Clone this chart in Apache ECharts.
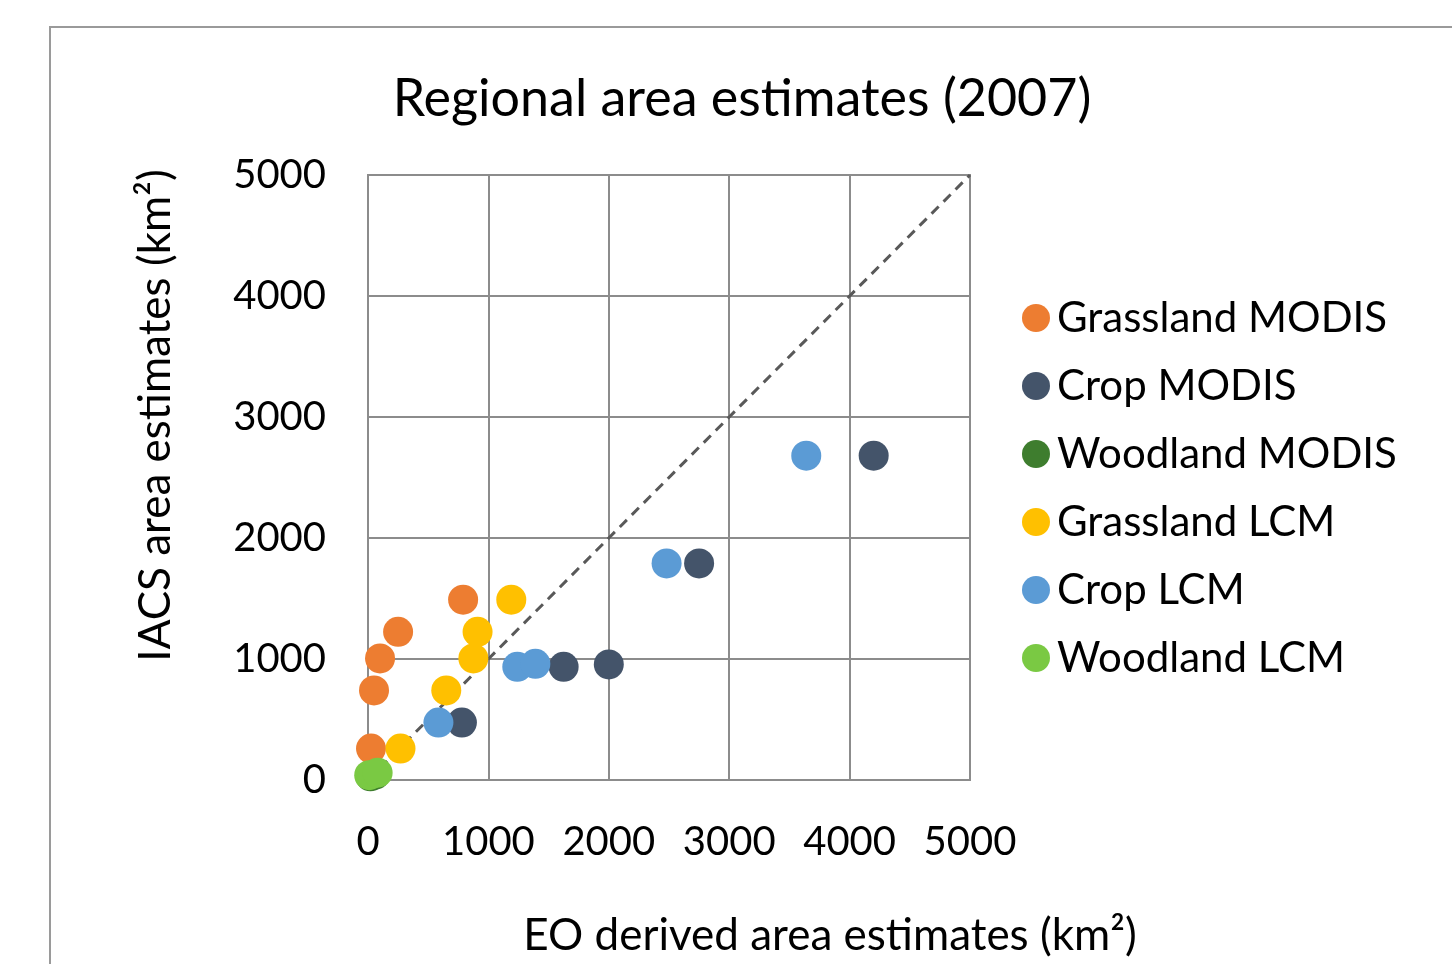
<!DOCTYPE html>
<html><head><meta charset="utf-8">
<script src="https://cdn.jsdelivr.net/npm/echarts@6/dist/echarts.min.js"></script>
<style>html,body{margin:0;padding:0;background:#fff}#c{width:1452px;height:964px}</style>
</head><body><div id="c"></div>
<script>
const title = 'Regional area estimates (2007)';
const xName = 'EO derived area estimates (km\u00B2)';
const yName = 'IACS area estimates (km\u00B2)';
const axisTicks = [0, 1000, 2000, 3000, 4000, 5000];
const seriesNames = ['Grassland MODIS','Crop MODIS','Woodland MODIS','Grassland LCM','Crop LCM','Woodland LCM'];
const seriesColors = ['#ED7D31','#44546A','#3E7D2E','#FFC000','#5B9BD5','#7AC943'];
const grasslandModis = [[790,1490],[250,1225],[100,1005],[50,740],[25,260]];
const cropModis = [[780,475],[1625,935],[2000,955],[2750,1790],[4200,2680]];
const woodlandModis = [[20,30],[60,45]];
const grasslandLcm = [[1190,1490],[910,1225],[875,1005],[650,740],[270,260]];
const cropLcm = [[585,475],[1240,935],[1390,960],[2480,1790],[3640,2680]];
const woodlandLcm = [[10,40],[80,60]];
const identityLine = [[0,0],[5000,5000]];
const seriesData = [grasslandModis, cropModis, woodlandModis, grasslandLcm, cropLcm, woodlandLcm];

const FONT = 'Lato';
const chart = echarts.init(document.getElementById('c'));
chart.setOption({
  animation: false,
  textStyle: {fontFamily: FONT},
  title: {text: title, left: 737, top: 68, textAlign: 'center',
    textStyle: {fontFamily: FONT, fontSize: 52, fontWeight: 'normal', color: '#000'}},
  graphic: [{type: 'rect', shape: {x: 50, y: 27, width: 1500, height: 1000},
    style: {fill: 'none', stroke: '#9a9a9a', lineWidth: 2}, z: -10}],
  grid: {left: 368, top: 175, right: 482, bottom: 184, show: true, borderColor: '#8c8c8c', borderWidth: 2},
  legend: {orient: 'vertical', left: 1017, top: 292, itemGap: 26, itemWidth: 28, itemHeight: 28,
    data: seriesNames.map(n => ({name: n, icon: 'circle'})),
    textStyle: {fontFamily: FONT, fontSize: 42, color: '#000', padding: [0,0,0,2]}},
  xAxis: {type: 'value', min: axisTicks[0], max: axisTicks[axisTicks.length-1], interval: 1000,
    name: xName, nameLocation: 'middle', nameGap: 134,
    nameTextStyle: {fontFamily: FONT, fontSize: 44, color: '#000', padding: [0,0,0,322]},
    axisLine: {show: false}, axisTick: {show: false},
    axisLabel: {fontFamily: FONT, fontSize: 40, color: '#000', margin: 42, formatter: v => String(v)},
    splitLine: {lineStyle: {color: '#8c8c8c', width: 2}}},
  yAxis: {type: 'value', min: axisTicks[0], max: axisTicks[axisTicks.length-1], interval: 1000,
    name: yName, nameLocation: 'middle', nameGap: 190, nameRotate: 90,
    nameTextStyle: {fontFamily: FONT, fontSize: 44, color: '#000', padding: [0,0,0,124]},
    axisLine: {show: false}, axisTick: {show: false},
    axisLabel: {fontFamily: FONT, fontSize: 40, color: '#000', margin: 42, formatter: v => String(v)},
    splitLine: {lineStyle: {color: '#8c8c8c', width: 2}}},
  series: [
    {type: 'line', data: identityLine, symbol: 'none', silent: true, z: 1,
      lineStyle: {color: '#595959', width: 3, type: [10, 7]}},
    ...seriesNames.map((n, i) => ({
      type: 'scatter', name: n, data: seriesData[i], symbolSize: 30, z: 2,
      itemStyle: {color: seriesColors[i], opacity: 1}
    }))
  ]
});
</script></body></html>
